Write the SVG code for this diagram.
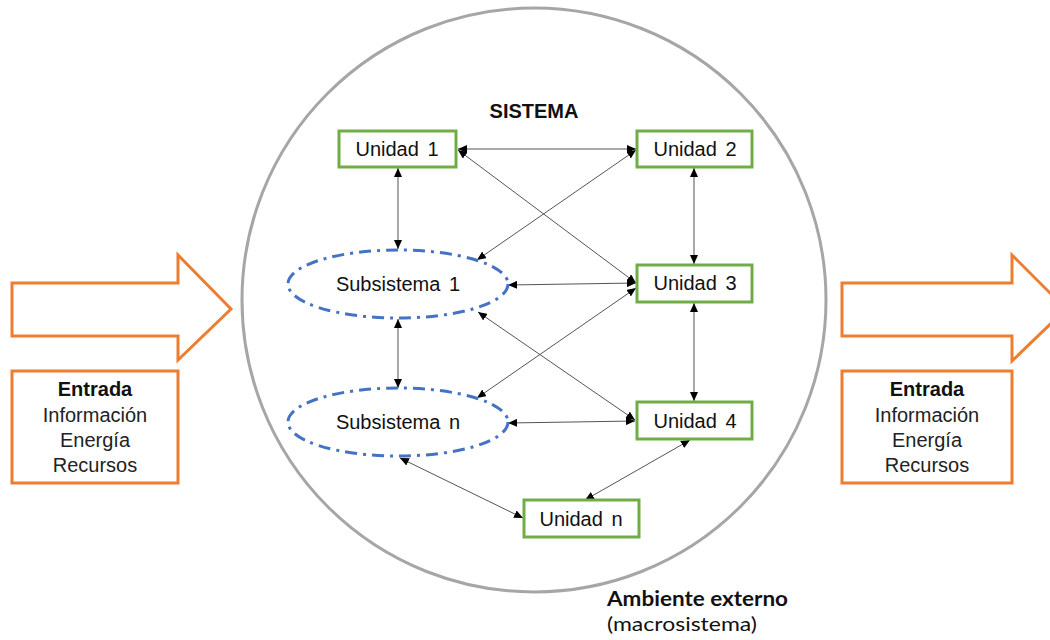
<svg xmlns="http://www.w3.org/2000/svg" width="1050" height="640" viewBox="0 0 1050 640">
<style>
.unit rect{fill:#fff;stroke:#70AD47;stroke-width:3}
.unit text,.sub text{font-family:"Liberation Sans",Arial,sans-serif;font-size:20px;fill:#111;text-anchor:middle}
.sub ellipse{fill:none;stroke:#4472C4;stroke-width:3;stroke-dasharray:12 6 3 6}
.orange{fill:#fff;stroke:#ED7D31;stroke-width:3}
.lbl{font-family:"Liberation Sans",Arial,sans-serif;font-size:20px;fill:#222;text-anchor:middle}
.b{font-weight:bold;fill:#111}
.conn line{stroke:#555;stroke-width:1;marker-start:url(#ah);marker-end:url(#ah)}
.amb{font-family:Lato,"Open Sans",sans-serif;font-size:20px;fill:#111}
</style>
<defs>
<marker id="ah" markerUnits="userSpaceOnUse" markerWidth="9" markerHeight="8" refX="9" refY="4" orient="auto-start-reverse">
<path d="M0,0 L9,4 L0,8 z" fill="#000"/>
</marker>
</defs>
<g id="ambiente">
<circle cx="534" cy="300" r="292" fill="none" stroke="#A6A6A6" stroke-width="3"/>
<text class="amb" x="607" y="606" font-weight="bold" textLength="181" lengthAdjust="spacingAndGlyphs">Ambiente externo</text>
<text class="amb" x="607" y="631" textLength="150" lengthAdjust="spacingAndGlyphs">(macrosistema)</text>
</g>
<g id="sistema-title">
<text class="lbl b" x="534" y="118" font-size="21">SISTEMA</text>
</g>
<g id="entrada-izq">
<polygon class="orange" points="12,283 178,283 178,255 231,309 178,360 178,336 12,336"/>
<rect class="orange" x="12" y="371" width="166" height="112"/>
<text class="lbl b" x="95" y="396">Entrada</text>
<text class="lbl" x="95" y="422">Información</text>
<text class="lbl" x="95" y="447">Energía</text>
<text class="lbl" x="95" y="472">Recursos</text>
</g>
<g id="entrada-der">
<polygon class="orange" points="842,283 1012,283 1012,255 1066,309 1012,361 1012,336 842,336"/>
<rect class="orange" x="842" y="371" width="170" height="112"/>
<text class="lbl b" x="927" y="396">Entrada</text>
<text class="lbl" x="927" y="422">Información</text>
<text class="lbl" x="927" y="447">Energía</text>
<text class="lbl" x="927" y="472">Recursos</text>
</g>
<g id="connectors" class="conn">
<line x1="458" y1="149" x2="636" y2="149"/>
<line x1="458" y1="150" x2="636" y2="283"/>
<line x1="636" y1="150" x2="477" y2="260"/>
<line x1="398" y1="168" x2="398" y2="249"/>
<line x1="694" y1="168" x2="694" y2="264"/>
<line x1="636" y1="283" x2="508" y2="285"/>
<line x1="636" y1="288" x2="477" y2="398"/>
<line x1="478" y1="312" x2="635" y2="420"/>
<line x1="398" y1="319" x2="398" y2="388"/>
<line x1="694" y1="303" x2="694" y2="401"/>
<line x1="508" y1="423" x2="635" y2="421"/>
<line x1="690" y1="440" x2="585" y2="500"/>
<line x1="400" y1="458" x2="523" y2="518"/>
</g>
<g id="unidad1" class="unit"><rect x="339" y="131" width="117" height="36"/><text x="397" y="156" word-spacing="3">Unidad 1</text></g>
<g id="unidad2" class="unit"><rect x="637" y="131" width="115" height="36"/><text x="695" y="156" word-spacing="3">Unidad 2</text></g>
<g id="unidad3" class="unit"><rect x="637" y="265" width="115" height="37"/><text x="695" y="290" word-spacing="3">Unidad 3</text></g>
<g id="unidad4" class="unit"><rect x="637" y="402" width="115" height="37"/><text x="695" y="428" word-spacing="3">Unidad 4</text></g>
<g id="unidadn" class="unit"><rect x="524" y="500" width="115" height="37"/><text x="581" y="526" word-spacing="3">Unidad n</text></g>
<g id="subsistema1" class="sub"><ellipse cx="398" cy="284" rx="110" ry="34"/><text x="398" y="291" word-spacing="3">Subsistema 1</text></g>
<g id="subsisteman" class="sub"><ellipse cx="398" cy="422" rx="110" ry="34"/><text x="398" y="429" word-spacing="3">Subsistema n</text></g>
</svg>
